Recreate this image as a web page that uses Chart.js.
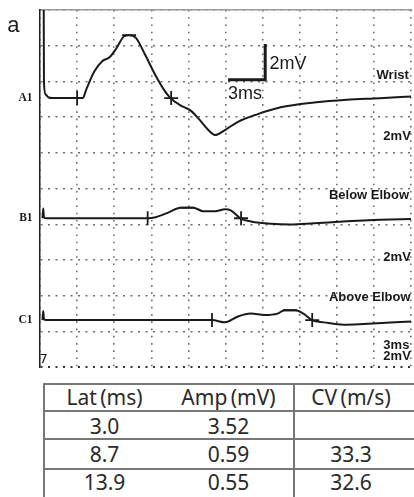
<!DOCTYPE html>
<html>
<head>
<meta charset="utf-8">
<script src="https://cdn.jsdelivr.net/npm/chart.js@4.4.1/dist/chart.umd.min.js"></script>
<style>
    html, body { margin: 0; padding: 0; background: #fff; overflow: hidden; }
    body { width: 414px; height: 497px; position: relative; }
    #wrap { position: absolute; left: 0; top: 0; width: 420px; height: 376px; }
    #ncs-table {
        position: absolute; left: 43px; top: 383px;
        border-collapse: collapse; table-layout: fixed; width: 376px;
        font-family: "Noto Sans", sans-serif; font-size: 21px; color: #2a2a2a;
        border-left: 2px solid #777;
    }
    #ncs-table td {
        padding: 0; text-align: center; vertical-align: top; line-height: 22px;
        border-top: 2px solid #777; word-spacing: -2px;
    }
    #ncs-table td.cv { border-left: 2px solid #777; padding-right: 13px; }
</style>
</head>
<body>
<div id="wrap"><canvas id="chart-ncs" width="420" height="376"></canvas></div>
<table id="ncs-table">
    <colgroup><col style="width:120px"><col style="width:130px"><col style="width:126px"></colgroup>
    <tbody id="ncs-table-body"></tbody>
</table>
<script>
// 측정값 (표)
const LAT = [3.0, 8.7, 13.9];          // ms, onset
const AMP = [3.52, 0.59, 0.55];        // mV
const CV = [null, 33.3, 32.6];         // m/s
const HEADERS = ['Lat (ms)', 'Amp (mV)', 'CV (m/s)'];

// 파형 (ms / mV)
const T_A = [0.3, 0.32, 0.45, 0.7, 1.0, 3.0, 3.45, 3.75, 4.4, 5.05, 5.6, 6.15, 6.8, 7.2, 7.75, 8.55, 9.35, 10.15, 10.6, 11.35, 12.15, 12.8, 13.6, 14.15, 14.95, 16.0, 17.6, 19.45, 22.15, 24.8, 27.45, 30];
const V_A = [5.5, 0.9, 0.2, 0.03, 0, 0, 0, 0.5, 1.5, 2.08, 2.27, 2.76, 3.46, 3.52, 3.37, 2.35, 1.25, 0.33, -0.04, -0.41, -0.69, -1.14, -1.79, -2.07, -1.79, -1.33, -0.9, -0.52, -0.25, -0.09, -0.01, 0.09];

const T_B = [0.2, 0.26, 0.32, 0.5, 8.7, 9.35, 10.4, 11.35, 12.4, 13.2, 14.15, 14.95, 15.45, 16.25, 17.05, 18.65, 20.25, 22.15, 24.8, 27.45, 30];
const V_B = [0, 0.55, 0.05, 0, 0, 0.06, 0.33, 0.59, 0.59, 0.39, 0.39, 0.5, 0.43, -0.03, -0.18, -0.31, -0.35, -0.28, -0.17, -0.09, -0.04];

const T_C = [0.2, 0.26, 0.32, 0.5, 13.9, 14.95, 16.0, 17.05, 18.15, 19.2, 19.75, 20.65, 21.35, 22.0, 22.95, 24.55, 26.15, 30];
const V_C = [0, 0.5, 0.05, 0, 0, -0.13, 0.2, 0.36, 0.28, 0.36, 0.55, 0.55, 0.33, -0.02, -0.13, -0.26, -0.22, -0.08];

// 마커 시점 (ms)
const PEAK_T = [7.2, 11.9, 20.2];
const END_T = [10.6, 16.25, 22.0];

// 채널 이름 / 자극 위치
const CHANNELS = ['A1', 'B1', 'C1'];
const SITES = ['Wrist', 'Below Elbow', 'Above Elbow'];

// 스케일 바 3ms x 2mV
const BAR_MS = 3;
const BAR_MV = 2;

// 트레이스 기준선 (mV 단위, 화면 전체 20mV = 10 div)
const BASE = [15.07, 8.34, 2.64];
const BAR_ORIGIN = { x: 15.2, y: 16.1 };

const ink = '#1a1a1a';

const toPts = (ts, vs, base) => ts.map((t, i) => ({ x: t, y: base + vs[i] }));

const traceDs = (ts, vs, base) => ({
    data: toPts(ts, vs, base),
    borderColor: ink, borderWidth: 2, pointRadius: 0,
    cubicInterpolationMode: 'monotone', fill: false
});

const markerDs = (pts, style, rot, r) => ({
    type: 'scatter', data: pts,
    pointStyle: style, pointRotation: rot, pointRadius: r, pointHoverRadius: r,
    pointBorderColor: ink, pointBackgroundColor: ink, pointBorderWidth: 1.8, showLine: false
});

const datasets = [
    traceDs(T_A, V_A, BASE[0]),
    traceDs(T_B, V_B, BASE[1]),
    traceDs(T_C, V_C, BASE[2]),
    markerDs(LAT.map((t, i) => ({ x: t, y: BASE[i] })), 'line', 90, 7),
    markerDs(END_T.map((t, i) => ({ x: t, y: BASE[i] })), 'cross', 0, 7),
    markerDs(PEAK_T.map((t, i) => ({ x: t, y: BASE[i] + AMP[i] })), 'line', 0, 7),
    {
        data: [
            { x: BAR_ORIGIN.x, y: BAR_ORIGIN.y },
            { x: BAR_ORIGIN.x + BAR_MS, y: BAR_ORIGIN.y },
            { x: BAR_ORIGIN.x + BAR_MS, y: BAR_ORIGIN.y + BAR_MV }
        ],
        borderColor: ink, borderWidth: 3, pointRadius: 0, tension: 0, fill: false
    }
];

// 텍스트 라벨 (x: ms, y: mV 축 값)
const bigFont = '18px "Liberation Sans", Arial, sans-serif';
const tagFont = 'bold 13px "Liberation Sans", Arial, sans-serif';
const chFont = 'bold 11.5px "Liberation Serif", serif';
const labels = [
    { text: 'a', x: -2.65, y: 19.1, font: '22px "Liberation Sans", Arial, sans-serif', align: 'left' },
    { text: BAR_MV + 'mV', x: 18.55, y: 17.0, font: bigFont, align: 'left' },
    { text: BAR_MS + 'ms', x: 15.2, y: 15.3, font: bigFont, align: 'left' },
    { text: SITES[0], x: 27.2, y: 16.35, font: tagFont, align: 'left' },
    { text: '2mV', x: 27.75, y: 12.93, font: tagFont, align: 'left' },
    { text: SITES[1], x: 23.35, y: 9.6, font: tagFont, align: 'left' },
    { text: '2mV', x: 27.75, y: 6.15, font: tagFont, align: 'left' },
    { text: SITES[2], x: 23.35, y: 3.88, font: tagFont, align: 'left' },
    { text: '3ms', x: 27.75, y: 1.22, font: tagFont, align: 'left' },
    { text: '2mV', x: 27.75, y: 0.6, font: tagFont, align: 'left' },
    { text: '7', x: -0.05, y: 0.45, font: '13px "DejaVu Sans", sans-serif', align: 'left' }
];
CHANNELS.forEach((ch, i) => labels.push({ text: ch, x: -0.6, y: BASE[i], font: chFont, align: 'right' }));

const labelPlugin = {
    id: 'traceLabels',
    afterDraw(chart) {
        const { ctx } = chart;
        const xs = chart.scales.x, ys = chart.scales.y;
        ctx.save();
        ctx.fillStyle = ink;
        ctx.textBaseline = 'middle';
        labels.forEach(l => {
            ctx.font = l.font;
            ctx.textAlign = l.align;
            ctx.fillText(l.text, xs.getPixelForValue(l.x), ys.getPixelForValue(l.y));
        });
        ctx.restore();
    }
};

new Chart(document.getElementById('chart-ncs'), {
    type: 'line',
    data: { datasets },
    plugins: [labelPlugin],
    options: {
        responsive: false,
        animation: false,
        devicePixelRatio: 1,
        layout: { padding: { left: 40, top: 10, right: 5, bottom: 4 } },
        plugins: { legend: { display: false }, tooltip: { enabled: false } },
        scales: {
            x: {
                type: 'linear', min: 0, max: 30,
                ticks: { display: false, stepSize: 3, autoSkip: false },
                grid: { color: '#6d6d6d', lineWidth: 1.6, drawTicks: false },
                border: { display: false, dash: [1.6, 5.64] }
            },
            xTop: {
                type: 'linear', position: 'top', min: 0, max: 30,
                ticks: { display: false }, grid: { display: false, drawTicks: false },
                border: { display: true, color: '#9a9a9a', width: 1.5 }
            },
            y: {
                type: 'linear', min: 0, max: 20,
                ticks: { display: false, stepSize: 2, autoSkip: false },
                grid: {
                    color: c => c.index === 0 ? '#333' : '#6d6d6d',
                    lineWidth: c => c.index === 0 ? 2 : 1.6,
                    drawTicks: false
                },
                border: { display: true, color: '#222', width: 1.5, dash: [2, 5.5] }
            }
        }
    }
});

// 표
const tbody = document.getElementById('ncs-table-body');
const rowH = [27, 28, 30, 30];
const rowPad = [1, 3, 2.5, 0.5];
const rows = [HEADERS].concat(LAT.map((lat, i) => [
    lat.toFixed(1), AMP[i].toFixed(2), CV[i] == null ? '' : CV[i].toFixed(1)
]));
tbody.innerHTML = rows.map((r, i) => `
    <tr style="height:${rowH[i]}px">
        ${r.map((v, j) => `<td${j === 2 ? ' class="cv"' : ''} style="padding-top:${rowPad[i]}px">${v}</td>`).join('')}
    </tr>`).join('');
</script>
</body>
</html>
